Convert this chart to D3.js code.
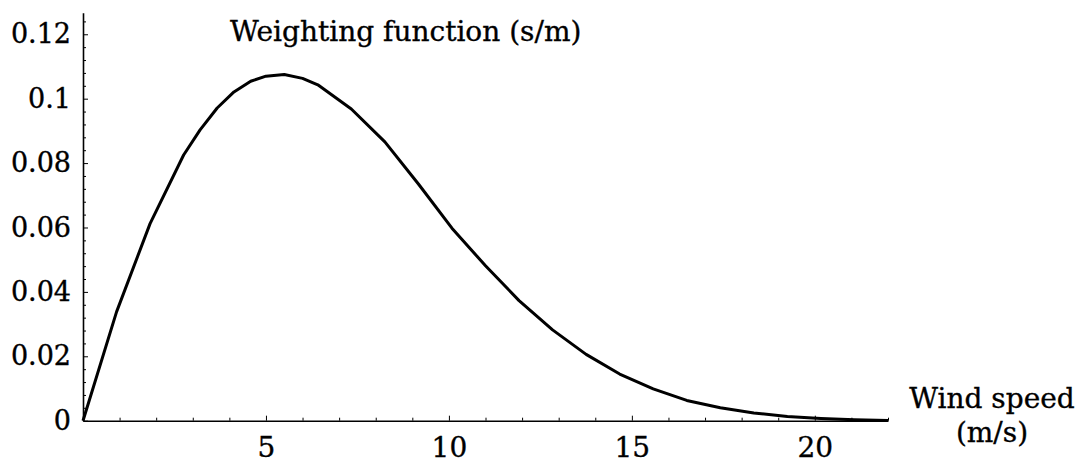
<!DOCTYPE html>
<html>
<head>
<meta charset="utf-8">
<script src="https://cdn.jsdelivr.net/npm/d3@7"></script>
<style>
  body { margin: 0; background: #fff; }
  svg text { font-family: "DejaVu Serif", serif; fill: #000; stroke: #000; stroke-width: 0.35px; }
  .axis path, .axis line { stroke: #000; }
</style>
</head>
<body>
<div id="chart"></div>
<script>
// wind speed (m/s) samples and the weighting function
var windSpeed = [0, 0.917, 1.833, 2.75, 3.2, 3.667, 4.125, 4.583, 5.0, 5.5, 6.0, 6.417,
                 7.333, 8.25, 9.167, 10.083, 11.0, 11.917, 12.833, 13.75, 14.667, 15.583,
                 16.5, 17.417, 18.333, 19.25, 20.167, 21.083, 22];
var weight = [0, 0.0338, 0.0612, 0.0825, 0.0903, 0.0971, 0.1021, 0.1054, 0.1070, 0.1075, 0.1063, 0.1043,
              0.0968, 0.0866, 0.0735, 0.0598, 0.0481, 0.0373, 0.0282, 0.0206, 0.0145, 0.0099,
              0.0063, 0.0040, 0.0024, 0.0013, 0.0007, 0.0003, 0.0001];

var xMajor = [5, 10, 15, 20];
var yMajor = [0, 0.02, 0.04, 0.06, 0.08, 0.1, 0.12];
var titleText = "Weighting function (s/m)";
var xLabelLines = ["Wind speed", "(m/s)"];

var W = 1085, H = 463;
var x0 = 83, x1 = 888, y0 = 420.7, y1 = 12.7;

var x = d3.scaleLinear().domain([0, 22]).range([x0, x1]);
var y = d3.scaleLinear().domain([0, 0.1267]).range([y0, y1]);

var svg = d3.select("#chart").append("svg")
    .attr("width", W)
    .attr("height", H);

// minor ticks
var xMinor = d3.range(1, 23).filter(function(d) { return xMajor.indexOf(d) < 0; });
var yMinor = d3.range(0, 0.1267, 0.004).filter(function(d) {
    return yMajor.every(function(m) { return Math.abs(m - d) > 1e-6; });
});

svg.append("g")
    .attr("class", "axis")
    .attr("transform", "translate(0," + y0 + ")")
    .call(d3.axisBottom(x).tickValues(xMinor).tickSizeInner(-3).tickSizeOuter(0).tickFormat(""))
    .call(function(g) { g.select(".domain").remove(); });

svg.append("g")
    .attr("class", "axis")
    .attr("transform", "translate(" + x0 + ",0)")
    .call(d3.axisLeft(y).tickValues(yMinor).tickSizeInner(-3).tickSizeOuter(0).tickFormat(""))
    .call(function(g) { g.select(".domain").remove(); });

// major axes
var xAxisG = svg.append("g")
    .attr("class", "axis")
    .attr("transform", "translate(0," + y0 + ")")
    .call(d3.axisBottom(x).tickValues(xMajor).tickSizeInner(-5).tickSizeOuter(0).tickPadding(16));
xAxisG.select(".domain").attr("stroke-width", 1.6);
xAxisG.selectAll("text")
    .style("font-size", "28px")
    .attr("dy", "0.71em");

var yAxisG = svg.append("g")
    .attr("class", "axis")
    .attr("transform", "translate(" + x0 + ",0)")
    .call(d3.axisLeft(y).tickValues(yMajor).tickSizeInner(-5).tickSizeOuter(0).tickPadding(12)
        .tickFormat(function(d) { return d === 0 ? "0" : String(+d.toFixed(2)); }));
yAxisG.select(".domain").attr("stroke-width", 1.6);
yAxisG.selectAll("text")
    .style("font-size", "27px");

// curve
var line = d3.line()
    .x(function(d, i) { return x(windSpeed[i]); })
    .y(function(d) { return y(d); });

svg.append("path")
    .datum(weight)
    .attr("d", line)
    .attr("fill", "none")
    .attr("stroke", "#000")
    .attr("stroke-width", 3)
    .attr("stroke-linejoin", "round");

// labels
svg.append("text")
    .attr("x", 230)
    .attr("y", 41)
    .style("font-size", "28px")
    .text(titleText);

svg.append("g").selectAll("text").data(xLabelLines).enter()
    .append("text")
    .attr("x", 992)
    .attr("y", function(d, i) { return 408 + i * 34; })
    .attr("text-anchor", "middle")
    .style("font-size", "28px")
    .text(function(d) { return d; });
</script>
</body>
</html>
